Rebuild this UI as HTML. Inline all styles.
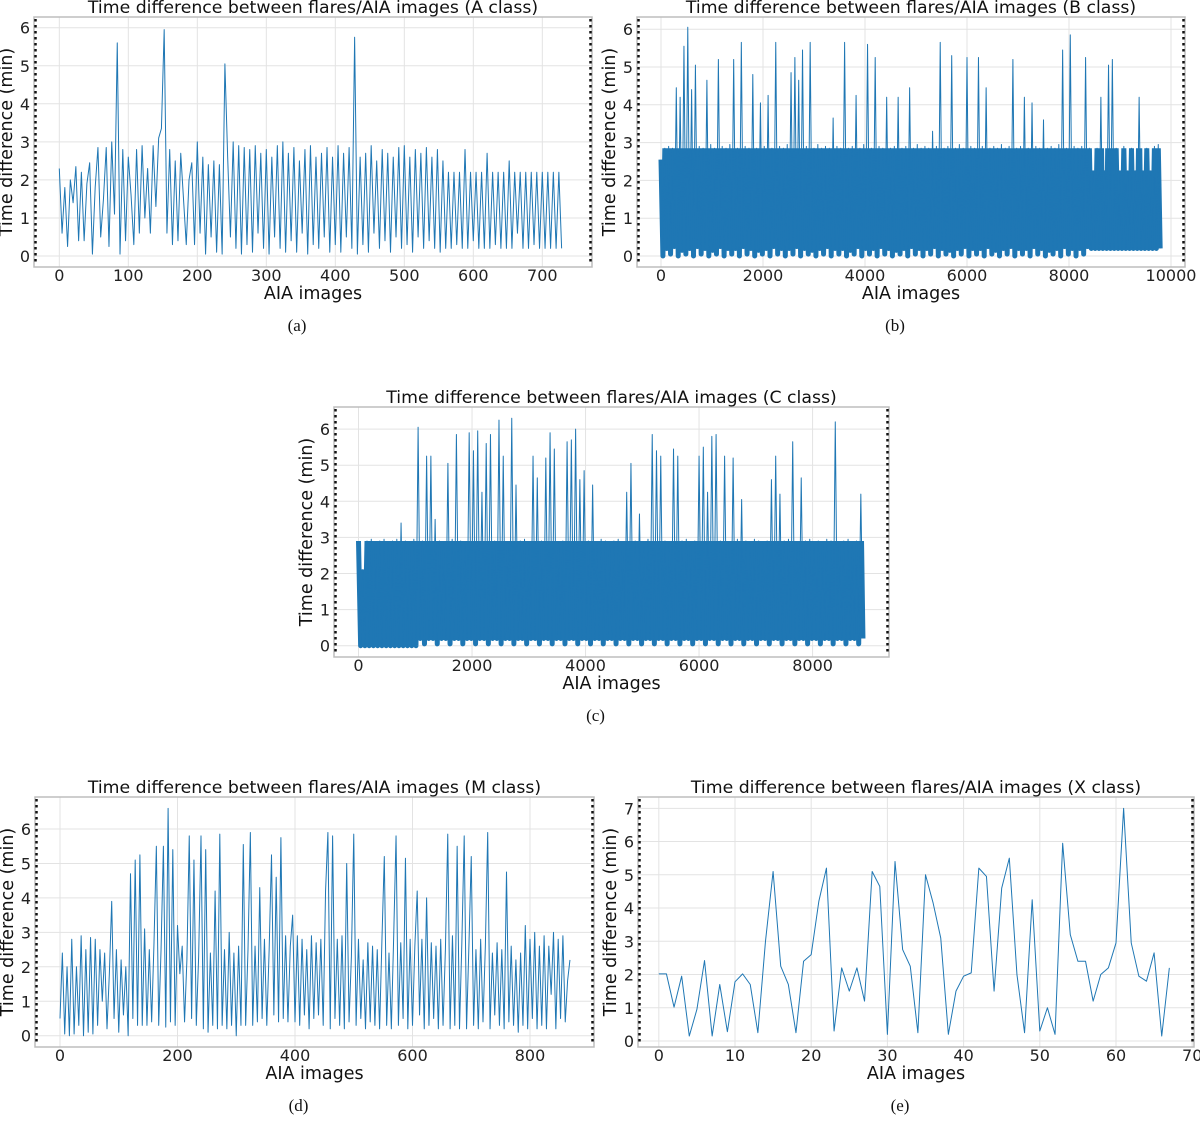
<!DOCTYPE html>
<html><head><meta charset="utf-8"><style>
html,body{margin:0;padding:0;background:#fff;}
svg{display:block;font-family:"DejaVu Sans","Liberation Sans",sans-serif;}
</style></head><body>
<svg id="fig" width="1200" height="1123" viewBox="0 0 1200 1123"></svg>
<script>
// ---- data ----
const aValues=[2.3,0.6,1.8,0.25,2.0,1.4,2.35,0.4,2.2,0.4,1.9,2.45,0.05,1.8,2.85,0.5,1.5,2.85,0.25,3.0,
1.1,5.6,0.05,2.8,0.4,2.6,1.6,0.3,2.8,0.6,2.9,1.0,2.3,0.6,2.9,1.3,3.1,3.35,5.95,0.6,
2.8,0.3,2.5,0.4,2.7,1.5,0.3,2.0,2.45,0.3,3.0,0.6,2.6,0.05,2.4,0.5,2.5,0.1,2.4,0.05,
5.05,2.6,0.5,3.0,0.2,2.9,0.05,2.85,0.3,2.8,0.1,2.9,0.6,2.7,0.2,2.8,0.05,2.6,0.5,2.9,
0.2,3.0,0.1,2.7,0.4,2.85,0.1,2.5,0.6,2.8,0.05,2.9,0.3,2.6,0.2,2.7,0.5,2.85,0.1,2.6,
0.3,2.9,0.1,2.7,0.5,2.85,0.2,5.75,0.05,2.6,0.3,2.7,0.1,2.9,0.6,2.5,0.2,2.8,0.4,2.7,
0.1,2.6,0.5,2.85,0.2,2.9,0.3,2.6,0.1,2.8,0.5,2.7,0.2,2.85,0.4,2.6,0.2,2.8,0.1,2.5,
0.2,2.2,0.2,2.2,0.3,2.2,0.2,2.8,0.2,2.2,0.4,2.2,0.2,2.2,0.2,2.7,0.2,2.2,0.3,2.2,
0.2,2.2,0.2,2.5,0.2,2.2,0.6,2.2,0.2,2.2,0.2,2.2,0.3,2.2,0.2,2.2,0.2,2.2,0.2,2.2,0.2,2.2,0.2];
const aStep=4;
const bPeaks=[2.55,2.85,2.9,2.85,4.45,4.2,5.55,6.05,4.4,5.05,
2.9,2.85,4.65,2.95,2.85,5.2,2.9,2.85,2.95,5.2,
2.85,5.65,2.9,2.85,4.8,2.85,4.05,2.9,4.25,2.85,
5.65,2.9,2.85,2.95,4.85,5.25,4.65,5.45,2.9,5.65,
2.85,2.95,2.85,2.9,2.85,3.65,2.9,2.85,5.65,2.85,
2.9,4.25,2.85,2.95,5.6,2.85,5.25,2.9,2.85,4.2,
2.85,2.9,4.2,2.85,2.9,4.45,2.85,2.95,2.85,2.9,
2.85,3.3,2.9,5.65,2.85,2.9,5.3,2.85,2.95,2.85,
5.25,2.9,2.85,5.25,2.9,4.45,2.85,2.9,2.85,2.95,
2.85,2.9,5.2,2.85,2.9,4.2,2.85,4.05,2.9,2.85,
3.6,2.85,2.9,2.85,2.95,5.45,2.85,5.85,2.9,2.85,
2.9,5.25,2.85,2.2,2.85,4.2,2.2,5.05,5.2,2.85,
2.2,2.9,2.2,2.85,2.2,4.2,2.2,2.85,2.2,2.9,2.95];
const bTroughs=[0.0,0.2,0.05,0.25,0.0,0.15,0.05,0.2,0.0,0.25,
0.05,0.2,0.0,0.15,0.05,0.25,0.0,0.2,0.05,0.2,
0.0,0.25,0.05,0.2,0.0,0.15,0.05,0.2,0.0,0.25,
0.05,0.2,0.0,0.2,0.05,0.25,0.0,0.2,0.05,0.15,
0.0,0.2,0.05,0.25,0.0,0.2,0.05,0.2,0.0,0.15,
0.05,0.25,0.0,0.2,0.05,0.2,0.0,0.25,0.05,0.2,
0.0,0.15,0.05,0.2,0.0,0.25,0.05,0.2,0.0,0.2,
0.05,0.25,0.0,0.2,0.05,0.15,0.0,0.2,0.05,0.25,
0.0,0.2,0.05,0.2,0.0,0.25,0.05,0.15,0.0,0.2,
0.05,0.25,0.0,0.2,0.05,0.2,0.0,0.25,0.05,0.2,
0.0,0.15,0.05,0.2,0.0,0.25,0.05,0.2,0.0,0.2,
0.05,0.25,0.2,0.2,0.2,0.2,0.2,0.2,0.2,0.2,
0.2,0.2,0.2,0.2,0.2,0.2,0.2,0.2,0.2,0.2,0.2];
const bStep=37.5;
const cPeaks=[2.9,2.05,2.9,2.95,2.85,2.9,2.95,2.85,2.9,2.95,
3.4,2.9,2.85,2.95,6.05,2.9,5.25,5.25,3.5,2.9,
2.85,5.05,2.95,5.85,2.9,2.85,5.9,5.4,5.95,4.25,
5.6,5.85,2.9,6.25,5.25,2.85,6.3,4.45,2.9,2.95,
2.85,5.25,4.65,2.9,5.2,5.9,5.45,2.85,2.9,5.65,
5.7,6.0,4.6,4.85,2.9,4.45,2.85,2.95,2.9,2.85,
2.9,2.95,2.85,4.25,5.05,2.9,3.65,2.85,2.95,5.85,
5.4,5.25,2.9,2.85,5.45,5.25,2.9,2.95,2.85,2.9,
5.25,5.5,4.25,5.8,5.85,2.9,5.25,2.85,5.2,2.95,
4.05,2.9,2.85,2.95,2.9,2.85,2.9,4.6,5.25,4.2,
2.9,2.95,5.65,2.85,4.65,2.9,2.95,2.85,2.9,2.85,
2.95,2.9,6.2,2.85,2.9,2.95,2.85,2.9,4.2];
const cTroughs=[0.0,0.0,0.0,0.0,0.0,0.0,0.0,0.0,0.0,0.0,
0.0,0.0,0.0,0.0,0.2,0.05,0.2,0.2,0.05,0.2,
0.2,0.05,0.2,0.2,0.05,0.2,0.2,0.05,0.2,0.2,
0.05,0.2,0.2,0.05,0.2,0.2,0.05,0.2,0.2,0.05,
0.2,0.2,0.05,0.2,0.2,0.05,0.2,0.2,0.05,0.2,
0.2,0.05,0.2,0.2,0.05,0.2,0.2,0.05,0.2,0.2,
0.05,0.2,0.2,0.05,0.2,0.2,0.05,0.2,0.2,0.05,
0.2,0.2,0.05,0.2,0.2,0.05,0.2,0.2,0.05,0.2,
0.2,0.05,0.2,0.2,0.05,0.2,0.2,0.05,0.2,0.2,
0.05,0.2,0.2,0.05,0.2,0.2,0.05,0.2,0.2,0.05,
0.2,0.2,0.05,0.2,0.2,0.05,0.2,0.2,0.05,0.2,
0.2,0.05,0.2,0.2,0.05,0.2,0.2,0.05,0.2];
const cStep=37.5;
const mValues=[0.5,2.4,0.05,2.0,0.0,2.8,0.05,2.0,0.3,2.9,0.0,2.5,0.1,2.85,0.05,2.8,0.3,2.5,1.0,2.4,
0.2,1.8,3.9,0.5,2.5,0.1,2.2,0.6,2.0,0.0,4.7,0.5,5.1,0.3,5.25,0.3,3.1,0.3,2.5,0.4,
2.7,5.5,0.3,2.5,5.5,0.25,6.6,0.4,5.4,0.3,3.2,1.8,2.6,0.4,2.2,5.8,0.5,5.1,0.3,2.3,
5.8,0.2,5.4,0.1,2.4,0.3,4.2,0.2,5.85,0.3,2.5,0.2,3.0,0.3,2.4,0.0,2.6,0.3,5.55,0.3,
2.5,5.9,0.3,2.6,0.4,4.3,0.5,2.8,0.3,2.5,5.25,0.6,4.6,0.4,5.75,0.5,2.9,0.4,2.6,3.5,
0.4,2.9,0.3,2.8,0.6,2.5,0.2,2.9,0.5,2.7,0.6,2.8,0.3,4.2,5.9,0.2,5.8,0.5,2.8,0.3,
2.9,0.2,5.0,0.4,2.3,5.85,0.3,2.8,0.5,2.2,0.2,2.7,0.4,2.6,0.3,2.5,0.2,2.8,5.2,0.3,
2.4,0.2,2.9,5.8,0.3,2.7,0.5,5.15,0.2,2.8,0.3,2.6,4.2,0.6,2.8,0.2,4.0,0.3,2.7,0.5,
2.6,0.2,2.8,0.3,2.5,5.85,0.2,2.9,0.3,5.5,0.2,2.7,5.8,0.2,2.6,5.2,0.3,2.5,0.2,2.8,
0.4,2.6,5.9,0.2,2.4,0.6,2.7,0.3,2.5,0.2,4.75,0.4,2.6,0.3,2.2,0.1,2.4,0.3,3.2,0.2,
2.8,0.5,3.0,0.2,2.6,0.3,2.9,0.2,2.6,1.2,3.0,0.2,2.8,0.5,2.9,0.4,1.6,2.2];
const mStep=4;
const xValues=[2.02,2.02,1.02,1.95,0.15,0.95,2.42,0.15,1.7,0.28,1.78,2.02,1.7,0.25,3.0,5.1,2.25,1.7,0.25,2.4,
2.6,4.2,5.2,0.3,2.2,1.5,2.2,1.2,5.1,4.65,0.2,5.4,2.75,2.25,0.25,5.0,4.15,3.1,0.2,1.5,
1.95,2.05,5.2,4.95,1.5,4.6,5.5,2.0,0.25,4.25,0.3,1.0,0.2,5.95,3.2,2.4,2.4,1.2,2.0,2.2,
2.95,7.0,2.95,1.95,1.8,2.65,0.15,2.2];
const xStep=1;
const ticksA=[0,100,200,300,400,500,600,700];
const ticksB=[0,2000,4000,6000,8000,10000];
const ticksC=[0,2000,4000,6000,8000];
const ticksD=[0,200,400,600,800];
const ticksE=[0,10,20,30,40,50,60,70];
const yTicks6=[0,1,2,3,4,5,6];
const yTicks7=[0,1,2,3,4,5,6,7];

function interleave(p,t){const o=[];for(let i=0;i<p.length;i++){o.push(p[i]);if(i<t.length)o.push(t[i]);}return o;}

const NS="http://www.w3.org/2000/svg";
const fig=document.getElementById('fig');
const defs=document.createElementNS(NS,'defs');fig.appendChild(defs);
function mk(tag,attrs,parent){const e=document.createElementNS(NS,tag);for(const k in attrs)e.setAttribute(k,attrs[k]);(parent||fig).appendChild(e);return e;}
let clipN=0;

function panel(p){
  const g=mk('g',{});
  
  
  const X=v=>p.x0+v*p.xs, Y=v=>p.y0-v*p.ys;
  p.xt.forEach(t=>{const l=mk('line',{x1:X(t),x2:X(t),y1:p.T,y2:p.B,stroke:'#e3e3e3','stroke-width':1},g);
    
    });
  p.yt.forEach(t=>{const l=mk('line',{x1:p.L,x2:p.R,y1:Y(t),y2:Y(t),stroke:'#e3e3e3','stroke-width':1},g);
    
    });
  let d='';p.vals.forEach((v,i)=>{d+=(i?'L':'M')+X(i*p.step).toFixed(2)+' '+Y(v).toFixed(2);});
  if(p.dense){
    const id='bandclip'+(clipN++);
    const cp=mk('clipPath',{id:id},defs);
    mk('rect',{x:p.L,y:Y(p.dense),width:p.R-p.L,height:p.B-Y(p.dense)},cp);
    const band=mk('path',{d:d,fill:'none',stroke:'#1f77b4','stroke-width':5,'stroke-linejoin':'round','clip-path':`url(#${id})`},g);
    
    
  }
  const s=mk('path',{d:d,fill:'none',stroke:'#1f77b4','stroke-width':p.sw,'stroke-linejoin':'round'},g);
  
  
  const f=mk('rect',{x:p.L,y:p.T,width:p.R-p.L,height:p.B-p.T,fill:'none',stroke:'#bdbdbd','stroke-width':1.5},g);
  
  
  [p.L+1.5,p.R-1.5].forEach(x=>{const dl=mk('line',{x1:x,x2:x,y1:p.T+2,y2:p.B-2,stroke:'#111','stroke-width':2.5,'stroke-dasharray':'2.5,3.5'},g);
    
    });
  p.xt.forEach(t=>{const tx=mk('text',{x:X(t),y:p.B+14,'text-anchor':'middle','font-size':16,fill:'#222'},g);tx.textContent=t;
    
    });
  p.yt.forEach(t=>{const tx=mk('text',{x:p.L-4,y:Y(t)+6,'text-anchor':'end','font-size':16,fill:'#222'},g);tx.textContent=t;
    
    });
  const cx=(p.L+p.R)/2, cy=(p.T+p.B)/2;
  const ti=mk('text',{x:cx,y:p.T-4,'text-anchor':'middle','font-size':17.3,fill:'#111'},g);ti.textContent=p.title;
  
  
  const xl=mk('text',{x:cx,y:p.B+32,'text-anchor':'middle','font-size':17.5,fill:'#111'},g);xl.textContent='AIA images';
  
  
  const yl=mk('text',{x:0,y:0,'text-anchor':'middle','font-size':17.5,fill:'#111',transform:`translate(${p.L-22},${cy}) rotate(-90)`},g);yl.textContent='Time difference (min)';
  
  
  const cap=mk('text',{x:cx-16,y:p.B+64,'text-anchor':'middle','font-size':17,fill:'#111','font-family':'"Liberation Serif",serif'},g);cap.textContent=p.cap;
  
  
}

panel({name:'panel-a-class',title:'Time difference between flares/AIA images (A class)',cap:'(a)',
  L:34,R:592,T:17,B:267,x0:59.3,xs:0.69,y0:256,ys:38.05,xt:ticksA,yt:yTicks6,vals:aValues,step:aStep,sw:1});
panel({name:'panel-b-class',title:'Time difference between flares/AIA images (B class)',cap:'(b)',
  L:637,R:1185,T:17,B:267,x0:661,xs:0.051,y0:256,ys:37.8,xt:ticksB,yt:yTicks6,vals:interleave(bPeaks,bTroughs),step:bStep,sw:1,dense:2.85});
panel({name:'panel-c-class',title:'Time difference between flares/AIA images (C class)',cap:'(c)',
  L:334,R:889,T:407,B:657,x0:358.5,xs:0.05676,y0:645.7,ys:36.1,xt:ticksC,yt:yTicks6,vals:interleave(cPeaks,cTroughs),step:cStep,sw:1,dense:2.9});
panel({name:'panel-m-class',title:'Time difference between flares/AIA images (M class)',cap:'(d)',
  L:35,R:594,T:797,B:1047,x0:60,xs:0.5875,y0:1035.7,ys:34.45,xt:ticksD,yt:yTicks6,vals:mValues,step:mStep,sw:1});
panel({name:'panel-x-class',title:'Time difference between flares/AIA images (X class)',cap:'(e)',
  L:638,R:1194,T:797,B:1047,x0:658.8,xs:7.62,y0:1041,ys:33.24,xt:ticksE,yt:yTicks7,vals:xValues,step:xStep,sw:1});
</script>
</body></html>
